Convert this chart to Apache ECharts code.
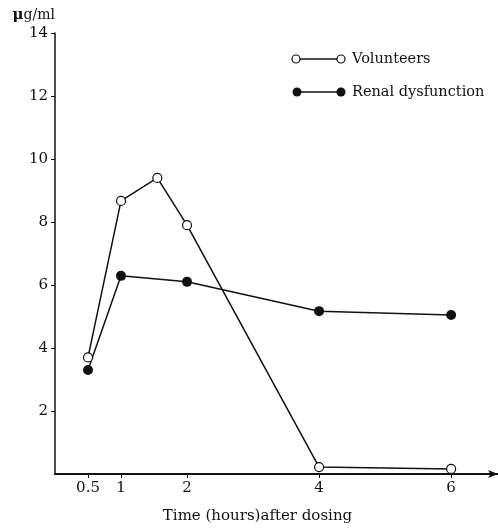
<!DOCTYPE html>
<html>
<head>
<meta charset="utf-8">
<script src="https://cdn.jsdelivr.net/npm/echarts@6/dist/echarts.min.js"></script>
<style>
  html, body { margin: 0; padding: 0; background: #fff; }
  #chart { width: 498px; height: 529px; }
</style>
</head>
<body>
<div id="chart"></div>
<script>
// 时间点 (小时)
var volunteerHours = [0.5, 1, 1.55, 2, 4, 6];
var volunteerValues = [3.7, 8.67, 9.4, 7.9, 0.22, 0.16];
var renalHours = [0.5, 1, 2, 4, 6];
var renalValues = [3.3, 6.29, 6.1, 5.17, 5.05];
var xTickLabels = [0.5, 1, 2, 4, 6];
var yTickLabels = [2, 4, 6, 8, 10, 12, 14];

function pairs(xs, ys) {
    return xs.map(function (x, i) { return [x, ys[i]]; });
}

var font = 'DejaVu Serif';

function initChart() {
    var chart = echarts.init(document.getElementById('chart'));
    var option = {
        animation: false,
        grid: { left: 55, right: 0, top: 33, bottom: 55 },
        xAxis: {
            type: 'value',
            min: 0,
            max: 6.71,
            name: 'Time (hours)after dosing',
            nameLocation: 'middle',
            nameGap: 35,
            nameTextStyle: { fontFamily: font, fontSize: 15, color: '#111', padding: [0, 38, 0, 0] },
            splitLine: { show: false },
            axisLine: { lineStyle: { color: '#111', width: 2 }, symbol: ['none', 'arrow'], symbolSize: [6, 10] },
            axisTick: { customValues: xTickLabels, length: 4, lineStyle: { color: '#111' } },
            axisLabel: {
                customValues: xTickLabels,
                fontFamily: font, fontSize: 15, color: '#111', margin: 7
            }
        },
        yAxis: {
            type: 'value',
            min: 0,
            max: 14,
            interval: 2,
            name: '{b|μ}g/ml',
            nameLocation: 'end',
            nameGap: 10,
            nameTextStyle: {
                fontFamily: font, fontSize: 14, color: '#111', align: 'right',
                rich: { b: { fontFamily: font, fontSize: 15, fontWeight: 'bold', color: '#111' } }
            },
            splitLine: { show: false },
            axisLine: { show: true, lineStyle: { color: '#111', width: 1.5 } },
            axisTick: { customValues: yTickLabels, length: 4, lineStyle: { color: '#111' } },
            axisLabel: {
                customValues: yTickLabels,
                fontFamily: font, fontSize: 15, color: '#111', margin: 7
            }
        },
        graphic: [
            { type: 'line', shape: { x1: 296, y1: 59, x2: 341, y2: 59 }, style: { stroke: '#111', lineWidth: 1.5 } },
            { type: 'circle', shape: { cx: 296, cy: 59, r: 4 }, style: { fill: '#fff', stroke: '#111', lineWidth: 1.2 } },
            { type: 'circle', shape: { cx: 341, cy: 59, r: 4 }, style: { fill: '#fff', stroke: '#111', lineWidth: 1.2 } },
            { type: 'text', x: 352, y: 59, style: { text: 'Volunteers', fontFamily: font, fontSize: 14.5, fill: '#111', verticalAlign: 'middle' } },
            { type: 'line', shape: { x1: 297, y1: 92, x2: 341, y2: 92 }, style: { stroke: '#111', lineWidth: 1.5 } },
            { type: 'circle', shape: { cx: 297, cy: 92, r: 4.5 }, style: { fill: '#111' } },
            { type: 'circle', shape: { cx: 341, cy: 92, r: 4.5 }, style: { fill: '#111' } },
            { type: 'text', x: 352, y: 92, style: { text: 'Renal dysfunction', fontFamily: font, fontSize: 14.5, fill: '#111', verticalAlign: 'middle' } }
        ],
        series: [{
            name: 'Volunteers',
            type: 'line',
            data: pairs(volunteerHours, volunteerValues),
            symbol: 'circle',
            symbolSize: 9,
            itemStyle: { color: '#fff', borderColor: '#111', borderWidth: 1.2 },
            lineStyle: { color: '#111', width: 1.5 },
            z: 3
        }, {
            name: 'Renal dysfunction',
            type: 'line',
            data: pairs(renalHours, renalValues),
            symbol: 'circle',
            symbolSize: 10,
            itemStyle: { color: '#111', borderWidth: 0 },
            lineStyle: { color: '#111', width: 1.5 },
            z: 2
        }]
    };
    chart.setOption(option);
}

initChart();
</script>
</body>
</html>
